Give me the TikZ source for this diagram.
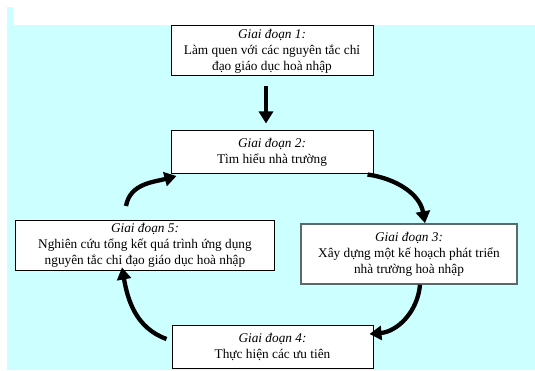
\documentclass[tikz,border=0pt]{standalone}
\usepackage{fontspec}
\setmainfont{Liberation Serif}
\usepackage{tikz}
\usetikzlibrary{arrows.meta}
\definecolor{bgcyan}{RGB}{204,255,255}
\definecolor{boxgray}{RGB}{90,105,105}

\begin{document}
\begin{tikzpicture}[x=1pt,y=1pt,
	stage/.style={draw, line width=1pt, fill=white, align=center, inner sep=0pt, font=\fontsize{13.3}{16}\selectfont},
	flow/.style={line width=4.3pt, -{Triangle[length=12pt,width=14pt]}}]
	\useasboundingbox (0,0) rectangle (535,370);
	\fill[bgcyan] (7,0) rectangle (535,345);
	\fill[bgcyan] (7,345) rectangle (13,363);

	\node(G1) [stage, minimum width=202pt, minimum height=50pt] at (272,319) {\textit{Giai đoạn 1:}\\Làm quen với các nguyên tắc chỉ\\đạo giáo dục hoà nhập};
	\node(G2) [stage, minimum width=202pt, minimum height=42pt] at (272,218) {\textit{Giai đoạn 2:}\\Tìm hiểu nhà trường};
	\node(G3) [stage, draw=boxgray, line width=1.5pt, minimum width=216pt, minimum height=60pt] at (409,116) {\textit{Giai đoạn 3:}\\Xây dựng một kế hoạch phát triển\\nhà trường hoà nhập};
	\node(G4) [stage, minimum width=201pt, minimum height=43pt] at (272.5,23.5) {\textit{Giai đoạn 4:}\\Thực hiện các ưu tiên};
	\node(G5) [stage, minimum width=259pt, minimum height=50pt] at (145,125) {\textit{Giai đoạn 5:}\\Nghiên cứu tổng kết quá trình ứng dụng\\nguyên tắc chỉ đạo giáo dục hoà nhập};

	\draw[flow] ([xshift=-6pt,yshift=-10pt]G1.south) -- ([xshift=-6pt,yshift=7pt]G2.north);
	\draw[flow] ([xshift=-6pt,yshift=-1pt]G2.south east) to[out=-8,in=100] ([xshift=16pt]G3.north);
	\draw[flow] ([xshift=11pt]G3.south) to[out=-95,in=5] ([xshift=-4pt,yshift=12.5pt]G4.east);
	\draw[flow] ([xshift=-5pt,yshift=7.5pt]G4.west) to[out=160,in=-80] ([xshift=-23pt,yshift=3pt]G5.south);
	\draw[flow] ([xshift=-19pt,yshift=13.5pt]G5.north) to[out=80,in=195] ([xshift=6pt,yshift=-2.5pt]G2.south west);

\end{tikzpicture}
\end{document}
